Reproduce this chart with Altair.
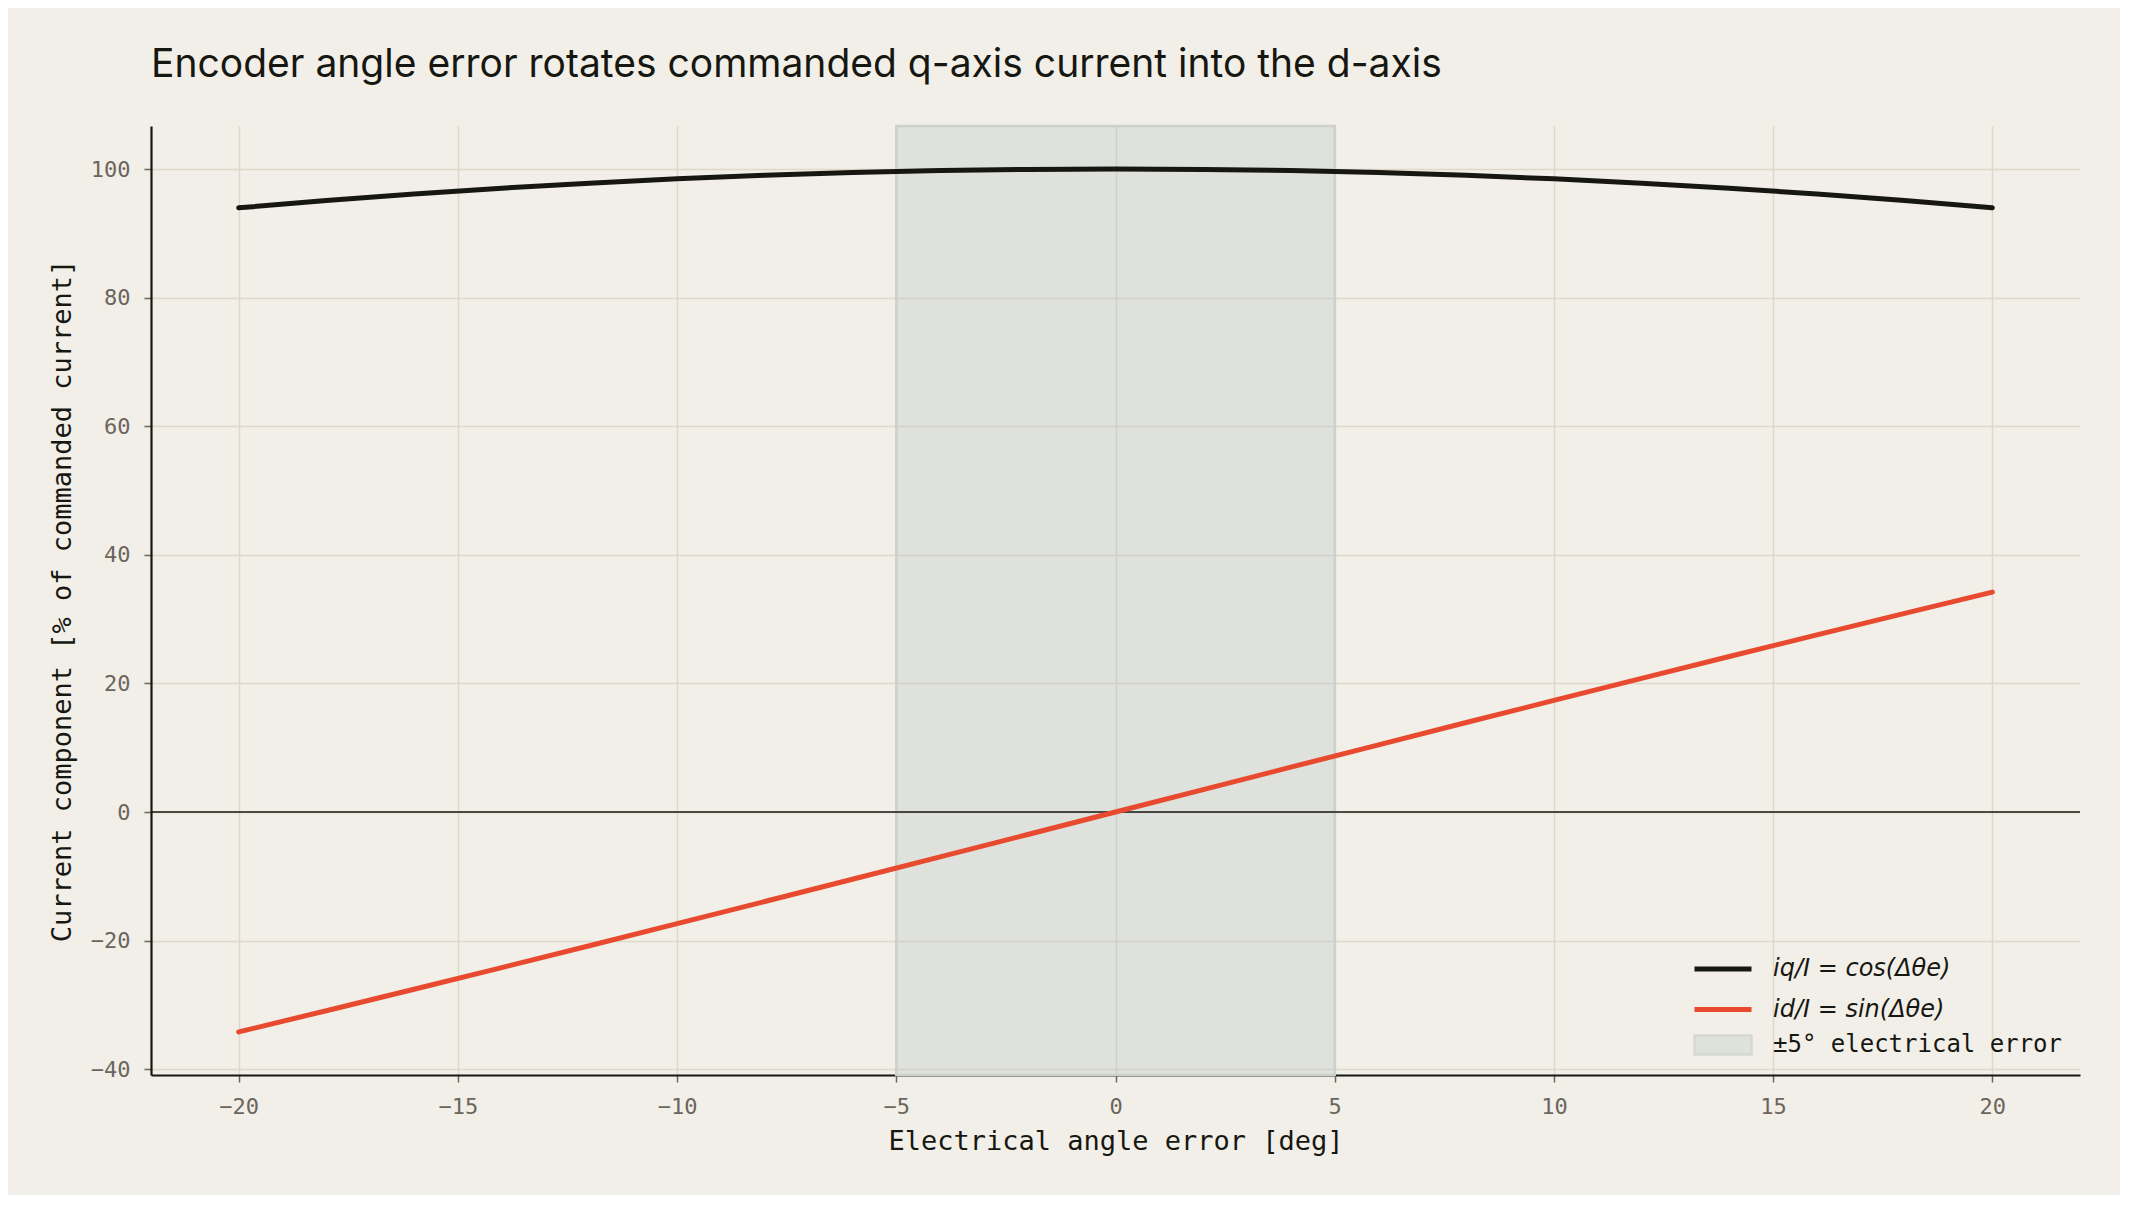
import altair as alt
import pandas as pd

# Data
angle_deg = [-20, -18, -16, -14, -12, -10, -8, -6, -4, -2, 0, 2, 4, 6, 8, 10, 12, 14, 16, 18, 20]
iq_pct = [93.97, 95.11, 96.13, 97.03, 97.81, 98.48, 99.03, 99.45, 99.76, 99.94, 100.0,
          99.94, 99.76, 99.45, 99.03, 98.48, 97.81, 97.03, 96.13, 95.11, 93.97]
id_pct = [-34.20, -30.90, -27.56, -24.19, -20.79, -17.36, -13.92, -10.45, -6.98, -3.49, 0.0,
          3.49, 6.98, 10.45, 13.92, 17.36, 20.79, 24.19, 27.56, 30.90, 34.20]
series_labels = ["iq/I = cos(Δθe)", "id/I = sin(Δθe)"]
band_label = "±5° electrical error"
band_lo, band_hi = [-5], [5]
x_ticks = [-20, -15, -10, -5, 0, 5, 10, 15, 20]
y_ticks = [-40, -20, 0, 20, 40, 60, 80, 100]
x_domain = [-22, 22]
y_domain = [-40.9, 106.7]

BG = "#f2efe8"
INK = "#171712"
RED = "#e84a2f"
GRID = "#ddd8c8"
TICKLAB = "#6b655d"
BAND = "#b4c2bf"
BAND_EDGE = "#ccd2ca"
MONO = "DejaVu Sans Mono"

rows = []
for a, q, d in zip(angle_deg, iq_pct, id_pct):
    rows.append({"angle": a, "value": q, "series": series_labels[0]})
    rows.append({"angle": a, "value": d, "series": series_labels[1]})
lines_df = pd.DataFrame(rows)
band_df = pd.DataFrame({"lo": band_lo, "hi": band_hi, "band": [band_label]})
zero_df = pd.DataFrame({"y": [0]})

xscale = alt.Scale(domain=x_domain, nice=False, zero=False)
yscale = alt.Scale(domain=y_domain, nice=False, zero=False)

xaxis = alt.Axis(values=x_ticks, title="Electrical angle error [deg]", grid=True,
                 labelPadding=14, titlePadding=11)
yaxis = alt.Axis(values=y_ticks, title="Current component [% of commanded current]", grid=True,
                 labelPadding=14, titlePadding=14)

band = alt.Chart(band_df).mark_rect(
    fillOpacity=0.3, stroke=BAND_EDGE, strokeWidth=2.5
).encode(
    x=alt.X("lo:Q", scale=xscale, axis=xaxis),
    x2="hi:Q",
    fill=alt.Fill("band:N", scale=alt.Scale(domain=[band_label], range=[BAND]),
                  legend=alt.Legend(title=None, orient="none", legendX=1560, legendY=907,
                                    labelFont=MONO, labelFontSize=24, labelColor=INK,
                                    labelLimit=0,
                                    symbolType="M-3,-1L3,-1L3,1L-3,1Z",
                                    symbolSize=361, symbolOpacity=0.3,
                                    symbolStrokeColor="#98a8a3", symbolStrokeWidth=2.5,
                                    labelOffset=38, padding=0)),
)

zero = alt.Chart(zero_df).mark_rule(color=INK, strokeWidth=1.6).encode(
    y=alt.Y("y:Q", scale=yscale, axis=yaxis)
)

lines = alt.Chart(lines_df).mark_line(strokeWidth=5, strokeCap="round").encode(
    x=alt.X("angle:Q", scale=xscale, axis=xaxis),
    y=alt.Y("value:Q", scale=yscale, axis=yaxis),
    color=alt.Color("series:N",
                    scale=alt.Scale(domain=series_labels, range=[INK, RED]),
                    sort=series_labels,
                    legend=alt.Legend(title=None, orient="none", legendX=1555, legendY=826,
                                      labelFont="DejaVu Sans", labelFontSize=24,
                                      labelFontStyle="italic", labelColor=INK,
                                      labelLimit=0,
                                      symbolType="M-2,0L2,0", symbolSize=812,
                                      symbolStrokeWidth=5, rowPadding=11.5,
                                      labelOffset=33, padding=0)),
)

chart = alt.layer(band, zero, lines).properties(
    width=1929,
    height=949,
    autosize="none",
    padding={"left": 143, "top": 118, "right": 40, "bottom": 120},
    title=alt.Title("Encoder angle error rotates commanded q-axis current into the d-axis",
                    anchor="start", frame="group", font="Inter", fontSize=39,
                    fontWeight="normal", color=INK, offset=40),
).configure(
    background=BG,
).configure_view(
    stroke=None,
).configure_axis(
    domainColor=INK, domainWidth=2.2, gridColor=GRID, gridWidth=1.4,
    tickColor=TICKLAB, tickSize=7, tickWidth=1.5,
    labelFont=MONO, labelFontSize=22, labelColor=TICKLAB,
    titleFont=MONO, titleFontSize=27, titleColor=INK, titleFontWeight="normal",
)

chart.save("out.html", embed_options={"renderer": "svg", "actions": False})
